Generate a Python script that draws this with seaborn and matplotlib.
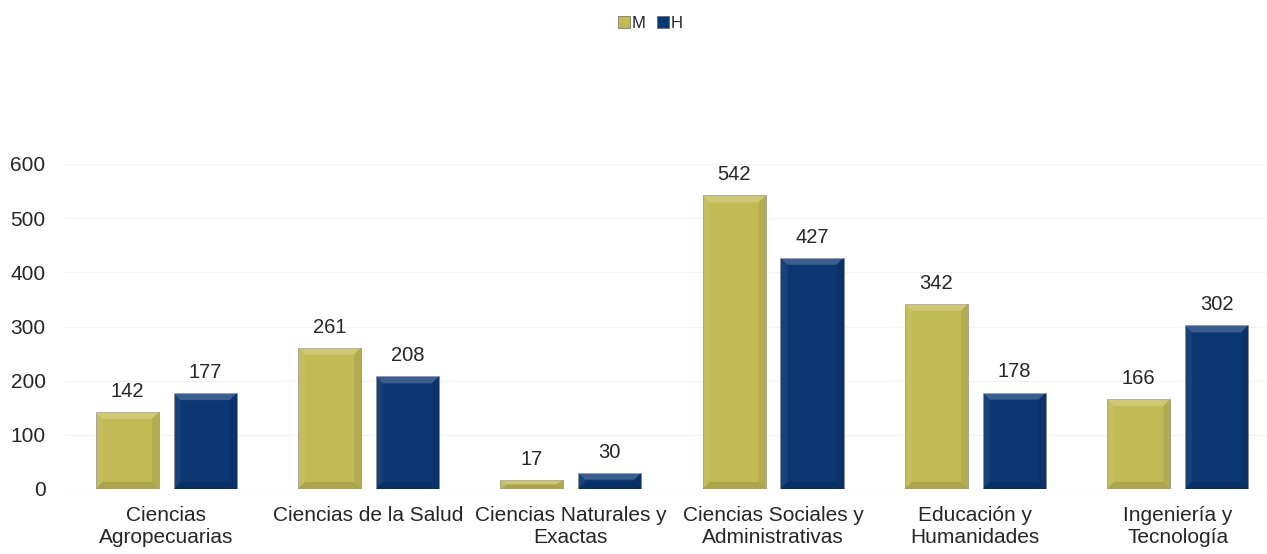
import matplotlib

matplotlib.use("Agg")
import matplotlib.pyplot as plt
from matplotlib.patches import Polygon
import seaborn as sns
import pandas as pd

# datos
categorias = [
    "Ciencias\nAgropecuarias",
    "Ciencias de la Salud",
    "Ciencias Naturales y\nExactas",
    "Ciencias Sociales y\nAdministrativas",
    "Educación y\nHumanidades",
    "Ingeniería y\nTecnología",
]
mujeres = [142, 261, 17, 542, 342, 166]
hombres = [177, 208, 30, 427, 178, 302]
series = ["M", "H"]
colores = ["#C2BB55", "#0B3772"]

df = pd.DataFrame({
    "categoria": categorias * 2,
    "valor": mujeres + hombres,
    "sexo": ["M"] * len(categorias) + ["H"] * len(categorias),
})

sns.set_theme(style="white")
plt.rcParams["font.family"] = ["Liberation Sans", "DejaVu Sans"]

W, H = 1267, 554
fig = plt.figure(figsize=(W / 100, H / 100), dpi=100)
ax = fig.add_axes([65 / W, 1 - 489 / H, (W - 65) / W, 325 / H])

sns.barplot(data=df, x="categoria", y="valor", hue="sexo", hue_order=series,
            palette=colores, saturation=1, width=0.77, gap=0.19,
            edgecolor="#8a8a8a", linewidth=0.5, ax=ax, legend=False)

ax.set_ylim(0, 600)
ax.set_xlim(-0.5, -0.5 + (W - 65) / 202.3)

# efecto biselado (aprox.)
fig.canvas.draw()
px_x = ax.transData.transform((1, 0))[0] - ax.transData.transform((0, 0))[0]
px_y = ax.transData.transform((0, 1))[1] - ax.transData.transform((0, 0))[1]
for cont in ax.containers:
    for p in cont.patches:
        x0, w, h = p.get_x(), p.get_width(), p.get_height()
        bx = min(7 / px_x, w / 2)
        by = min(7 / px_y, h / 2)
        x1 = x0 + w
        top = [(x0, h), (x1, h), (x1 - bx, h - by), (x0 + bx, h - by)]
        left = [(x0, 0), (x0, h), (x0 + bx, h - by), (x0 + bx, by)]
        right = [(x1, 0), (x1, h), (x1 - bx, h - by), (x1 - bx, by)]
        bot = [(x0, 0), (x1, 0), (x1 - bx, by), (x0 + bx, by)]
        ax.add_patch(Polygon(top, closed=True, facecolor="white", alpha=0.2, lw=0, zorder=3))
        ax.add_patch(Polygon(left, closed=True, facecolor="white", alpha=0.05, lw=0, zorder=3))
        ax.add_patch(Polygon(right, closed=True, facecolor="black", alpha=0.08, lw=0, zorder=3))
        ax.add_patch(Polygon(bot, closed=True, facecolor="black", alpha=0.12, lw=0, zorder=3))

for cont in ax.containers:
    ax.bar_label(cont, padding=8, fontsize=14.5, color="#262626")

ax.set_yticks(range(0, 601, 100))
ax.yaxis.grid(True, color="#f2f2f2", linewidth=0.8)
ax.set_axisbelow(True)
for s in ax.spines.values():
    s.set_visible(False)
ax.axhline(0, color="#e6e6e6", linewidth=0.8, zorder=0)
ax.set_xlabel("")
ax.set_ylabel("")
ax.tick_params(axis="both", labelsize=15, colors="#262626", length=0)
ax.tick_params(axis="y", pad=14)
ax.tick_params(axis="x", pad=12)

# leyenda
handles = [plt.Line2D([], [], marker="s", linestyle="", markersize=8,
                      markerfacecolor=c, markeredgecolor="#666666", markeredgewidth=0.5)
           for c in colores]
fig.legend(handles, series, loc="center", bbox_to_anchor=(650 / W, 1 - 23 / H), ncol=2,
           frameon=False, fontsize=12, handletextpad=0.05, columnspacing=0.7,
           handlelength=0.8)

plt.savefig("out.png", dpi=100)
plt.close()
